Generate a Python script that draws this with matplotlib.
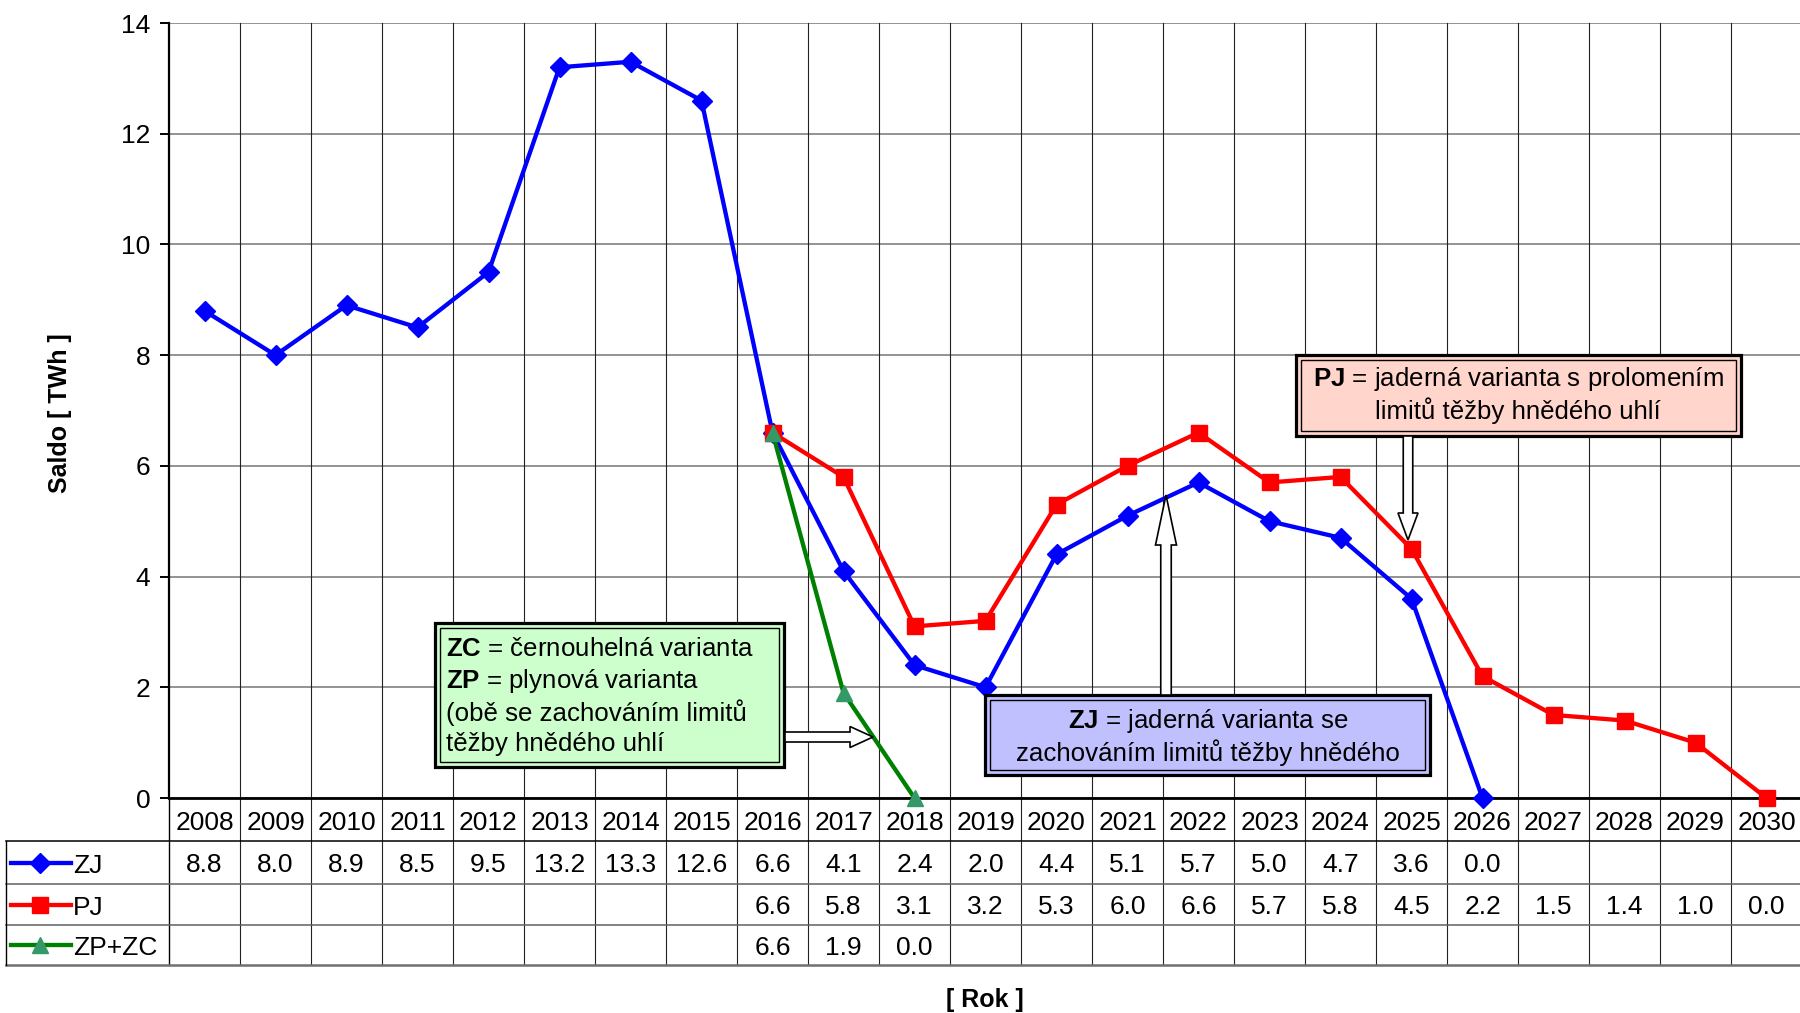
import matplotlib
matplotlib.use('Agg')
import matplotlib.pyplot as plt
from matplotlib.patches import Rectangle, FancyArrow

plt.rcParams['font.family'] = ['Liberation Sans', 'DejaVu Sans']
plt.rcParams['mathtext.fontset'] = 'custom'
plt.rcParams['mathtext.rm'] = 'Liberation Sans'
plt.rcParams['mathtext.bf'] = 'Liberation Sans:bold'

# ---------------- data ----------------
years = list(range(2008, 2031))
year_labels = [str(y) for y in years]

zj_years = list(range(2008, 2027))
zj = [8.8, 8.0, 8.9, 8.5, 9.5, 13.2, 13.3, 12.6, 6.6, 4.1, 2.4, 2.0, 4.4, 5.1, 5.7, 5.0, 4.7, 3.6, 0.0]

pj_years = list(range(2016, 2031))
pj = [6.6, 5.8, 3.1, 3.2, 5.3, 6.0, 6.6, 5.7, 5.8, 4.5, 2.2, 1.5, 1.4, 1.0, 0.0]

zp_years = [2016, 2017, 2018]
zpzc = [6.6, 1.9, 0.0]

series_names = ['ZJ', 'PJ', 'ZP+ZC']
y_ticks = [0, 2, 4, 6, 8, 10, 12, 14]

y_label = 'Saldo [ TWh ]'
x_label = '[ Rok ]'

FS = 19
BFS = 18.6

# ---------------- layout ----------------
W, H = 1800, 1013
fig = plt.figure(figsize=(18, 10.13), dpi=100)

ax_left, ax_right, ax_top, ax_bottom = 169, 1802, 23, 798
ax = fig.add_axes([ax_left / W, 1 - ax_bottom / H, (ax_right - ax_left) / W, (ax_bottom - ax_top) / H])
ax.set_xlim(-0.5, len(years) - 0.5)
ax.set_ylim(0, 14)

def yf(py):
    """pixel row -> axes fraction of main axes"""
    return (ax_bottom - py) / (ax_bottom - ax_top)

row_lines = [841, 884, 925, 965]
row_centers = [823, 865.5, 907.5, 948]

# grid
ax.set_yticks(y_ticks)
ax.yaxis.grid(True, color='#808080', lw=1.2, zorder=0)
ax.set_axisbelow(True)
ax.set_xticks([])
for k in range(1, len(years)):
    ax.plot([k - 0.5, k - 0.5], [1, yf(row_lines[-1])], transform=ax.get_xaxis_transform(),
            color='#222222', lw=0.8, clip_on=False, zorder=1)
ax.plot([-0.5, -0.5], [0, yf(row_lines[-1])], transform=ax.get_xaxis_transform(),
        color='black', lw=1.0, clip_on=False, zorder=1)

for s in ['top', 'right']:
    ax.spines[s].set_visible(False)
ax.spines['left'].set_linewidth(1.6)
ax.spines['bottom'].set_linewidth(2.0)
ax.tick_params(axis='y', length=6.5, width=1.4, pad=7, labelsize=FS)

# series
def idx(ys):
    return [years.index(y) for y in ys]

LW = 3.1
ax.plot(idx(zj_years), zj, color='#0000FF', lw=LW, marker='D', ms=10.5, mec='#0000FF', mfc='#0000FF',
        clip_on=False, zorder=3)
ax.plot(idx(pj_years), pj, color='#FF0000', lw=LW, marker='s', ms=11.5, mec='#FF0000', mfc='#FF0000',
        clip_on=False, zorder=4)
ax.plot(idx(zp_years), zpzc, color='#008000', lw=LW, marker='^', ms=12, mec='#339966', mfc='#339966',
        clip_on=False, zorder=5)

# table text
tr = ax.get_xaxis_transform()
for i, lab in enumerate(year_labels):
    ax.text(i, yf(row_centers[0]), lab, transform=tr, ha='center', va='center', fontsize=FS, clip_on=False)
for r, (ys, vals) in enumerate([(zj_years, zj), (pj_years, pj), (zp_years, zpzc)]):
    for y, v in zip(ys, vals):
        ax.text(years.index(y), yf(row_centers[r + 1]), f'{v:.1f}', transform=tr, ha='center', va='center',
                fontsize=FS, clip_on=False)

# ---------------- overlay (pixel coords) ----------------
ov = fig.add_axes([0, 0, 1, 1])
ov.set_xlim(0, W)
ov.set_ylim(H, 0)
ov.axis('off')
ov.set_zorder(5)
ov.patch.set_alpha(0)

# table horizontal lines
ov.plot([6, W], [row_lines[0]] * 2, color='black', lw=1.1)
ov.plot([6, W], [row_lines[1]] * 2, color='#606060', lw=1.1)
ov.plot([6, W], [row_lines[2]] * 2, color='#606060', lw=1.1)
ov.plot([6, W], [row_lines[3]] * 2, color='#707070', lw=1.8)
ov.plot([6, 6], [row_lines[0], row_lines[3]], color='black', lw=1.0)

# legend keys
key_styles = [('#0000FF', '#0000FF', 'D', 10), ('#FF0000', '#FF0000', 's', 11), ('#008000', '#339966', '^', 12)]
key_rows = [862.5, 904.5, 945]
for r, (name, (lc, mc, mk, ms)) in enumerate(zip(series_names, key_styles)):
    yc = key_rows[r]
    ov.plot([11, 71], [yc, yc], color=lc, lw=LW)
    ov.plot([40], [yc], marker=mk, ms=ms, color=mc, mec=mc)
    ov.text(73, row_centers[r + 1], name, ha='left', va='center', fontsize=FS)

# axis labels
ov.text(60, 413, y_label, rotation=90, ha='center', va='center', fontsize=18, fontweight='bold')
ov.text(985, 1000, x_label, ha='center', va='center', fontsize=18, fontweight='bold')

# annotation boxes
def draw_box(x0, y0, x1, y1, fc):
    ov.add_patch(Rectangle((x0, y0), x1 - x0, y1 - y0, fc=fc, ec='black', lw=2.3, zorder=6))
    ov.add_patch(Rectangle((x0 + 5, y0 + 5), x1 - x0 - 10, y1 - y0 - 10, fill=False, ec='black', lw=1.0, zorder=7))

def block_arrow(x, y, dx, dy, w, hw, hl):
    ov.add_patch(FancyArrow(x, y, dx, dy, width=w, head_width=hw, head_length=hl, length_includes_head=True,
                            fc='white', ec='black', lw=1.2, zorder=8))

# green box
draw_box(435, 623, 784, 767, '#CCFFCC')
green_lines = [r'$\mathbf{ZC}$ = černouhelná varianta', r'$\mathbf{ZP}$ = plynová varianta',
               '(obě se zachováním limitů', 'těžby hnědého uhlí']
for t, yy in zip(green_lines, [649, 681, 713, 744]):
    ov.text(446, yy, t, ha='left', va='center', fontsize=BFS, zorder=9)
block_arrow(785, 737, 88, 0, 10, 21, 23)

# blue box
draw_box(985, 695, 1430, 775, '#C0C0FF')
for t, yy in zip([r'$\mathbf{ZJ}$ = jaderná varianta se', 'zachováním limitů těžby hnědého'], [721, 753]):
    ov.text(1208, yy, t, ha='center', va='center', fontsize=BFS, zorder=9)
block_arrow(1166, 695, 0, -200, 10.5, 21, 50)

# pink box
draw_box(1296, 355, 1741, 436, '#FFD5CC')
for t, yy in zip([r'$\mathbf{PJ}$ = jaderná varianta s prolomením', 'limitů těžby hnědého uhlí'], [379, 411]):
    ov.text(1518, yy, t, ha='center', va='center', fontsize=BFS, zorder=9)
block_arrow(1408, 436, 0, 104, 9.5, 20, 27)

fig.savefig('out.png', dpi=100)
